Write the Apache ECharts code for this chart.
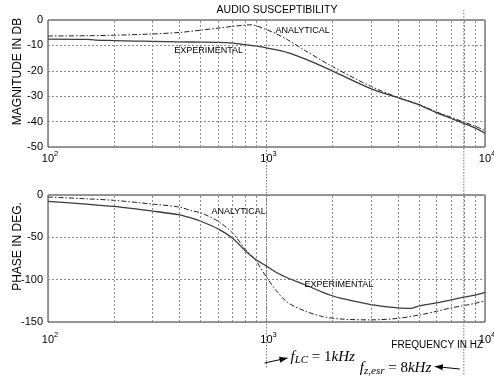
<!DOCTYPE html>
<html><head><meta charset="utf-8">
<script src="https://cdn.jsdelivr.net/npm/echarts@6/dist/echarts.min.js"></script>
<style>html,body{margin:0;padding:0;background:#fff}#c{width:494px;height:383px}</style>
</head><body><div id="c"></div>
<script>
// ---- data ----
const magFreqAna = [100,150,200,300,400,500,600,700,800,850,900,1000,1100,1250,1500,2000,3000,4000,5000,6000,7000,8000,9000,10000];
const magAna     = [-6.3,-6.2,-6.0,-5.5,-4.9,-4.0,-3.2,-2.5,-2.0,-1.9,-2.3,-3.8,-5.3,-7.8,-12.0,-18.3,-26.1,-30.5,-33.3,-36.2,-38.3,-40.2,-41.8,-43.5];
const magFreqExp = [100,150,165,200,250,300,400,500,600,700,800,900,1000,1250,1500,2000,3000,4000,5000,6000,7000,8000,9000,10000];
const magExp     = [-7.5,-7.6,-7.9,-8.1,-8.3,-8.4,-8.6,-8.7,-8.8,-9.1,-9.7,-10.3,-11.0,-12.8,-15.3,-20.0,-27.0,-30.6,-33.4,-36.5,-38.7,-40.7,-42.5,-44.6];
const phFreqAna  = [100,150,200,300,400,450,500,600,700,800,880,1000,1100,1250,1500,1800,2200,3000,4000,5000,6000,7000,8000,9000,10000];
const phAna      = [-2.4,-4.5,-6.3,-10.7,-14.3,-18.3,-21,-31,-45,-64,-75,-97,-112,-127,-137,-143.5,-146.5,-147.5,-145.7,-141.7,-137.4,-133.3,-130.6,-128,-125];
const phFreqExp  = [100,150,200,300,400,450,500,600,700,800,880,1000,1100,1250,1500,1800,2000,2200,3000,4000,4600,5000,6000,7000,8000,9000,10000];
const phExp      = [-7.6,-10.8,-13.5,-19,-23.4,-27,-31,-40,-51,-66,-75,-84,-91,-98,-106,-114.7,-119,-122,-129.4,-133.3,-133.8,-131,-127.4,-123.8,-120.7,-118.3,-115];
const minorGrid  = [200,300,400,500,600,700,800,900,2000,3000,4000,5000,6000,7000,8000,9000];
const magTicks   = [-50,-40,-30,-20,-10,0];
const phTicks    = [-150,-100,-50,0];
const xTicks     = [100,1000,10000];

const FONT = 'Liberation Sans, Arial, sans-serif';
const TICKFONT = 'Liberation Sans Narrow, Arial Narrow, Liberation Sans, Arial, sans-serif';
const gridLine = {color:'#8a8a8a', width:1, type:[2,2]};
const chart = echarts.init(document.getElementById('c'), null, {renderer:'canvas'});

function pairs(fs, vs){ return fs.map((f,i)=>[f, vs[i]]); }
function minorLines(){
  return {silent:true, symbol:['none','none'], label:{show:false}, lineStyle:gridLine, animation:false,
          data: minorGrid.map(f=>({xAxis:f}))};
}
function xAxisCfg(gi){
  return {type:'log', logBase:10, gridIndex:gi, min:xTicks[0], max:xTicks[xTicks.length-1],
    axisLine:{show:false}, axisTick:{show:false}, axisLabel:{show:false},
    splitLine:{show:true, lineStyle:gridLine} };
}
function yAxisCfg(gi, ticks, name, gap){
  return {type:'value', gridIndex:gi, min:ticks[0], max:ticks[ticks.length-1], interval:ticks[1]-ticks[0],
    name:name, nameLocation:'middle', nameGap:gap, nameMoveOverlap:false,
    nameTextStyle:{fontSize:12, fontFamily:FONT, color:'#000', padding:[0,0,0,24]},
    axisLine:{show:false}, axisTick:{show:false},
    splitLine:{show:true, lineStyle:gridLine},
    axisLabel:{margin:5, fontSize:11, fontFamily:TICKFONT, color:'#000'} };
}
function textMark(coord, txt){
  return {coord:coord, symbolSize:0, label:{show:true, position:'right', distance:0, formatter:txt,
          fontSize:9, fontFamily:FONT, color:'#000'}};
}
const anaStyle = {color:'#222', width:1, type:[5,2,1.5,2]};
const expStyle = {color:'#3a3a3a', width:1.3};

chart.setOption({
  animation:false,
  backgroundColor:'#fff',
  title:{text:'AUDIO SUSCEPTIBILITY', left:272, textAlign:'center', top:0,
         textStyle:{fontSize:10.5, fontWeight:'normal', fontFamily:FONT, color:'#000'}},
  grid:[
    {left:48, right:9, top:20, height:127, show:true, borderColor:'#333', borderWidth:1, outerBoundsMode:'none'},
    {left:48, right:9, top:195, height:127, show:true, borderColor:'#333', borderWidth:1, outerBoundsMode:'none'}
  ],
  xAxis:[ xAxisCfg(0), xAxisCfg(1) ],
  yAxis:[ yAxisCfg(0, magTicks, 'MAGNITUDE IN DB', 24), yAxisCfg(1, phTicks, 'PHASE IN DEG.', 24) ],
  series:[
    {type:'line', xAxisIndex:0, yAxisIndex:0, data:pairs(magFreqAna, magAna), showSymbol:false, smooth:0.3,
     lineStyle:anaStyle, markLine:minorLines(),
     markPoint:{symbol:'circle', data:[textMark([1099,-4.2],'ANALYTICAL')]}},
    {type:'line', xAxisIndex:0, yAxisIndex:0, data:pairs(magFreqExp, magExp), showSymbol:false, smooth:0.3,
     lineStyle:expStyle,
     markPoint:{symbol:'circle', data:[textMark([378,-12.1],'EXPERIMENTAL')]}},
    {type:'line', xAxisIndex:1, yAxisIndex:1, data:pairs(phFreqAna, phAna), showSymbol:false, smooth:0.3,
     lineStyle:anaStyle, markLine:minorLines(),
     markPoint:{symbol:'circle', data:[textMark([560,-19.5],'ANALYTICAL')]}},
    {type:'line', xAxisIndex:1, yAxisIndex:1, data:pairs(phFreqExp, phExp), showSymbol:false, smooth:0.3,
     lineStyle:expStyle,
     markPoint:{symbol:'circle', data:[textMark([1493,-105.6],'EXPERIMENTAL')]}}
  ]
});

// x tick labels (10^n) and annotations, placed through the axes' own scales
const graphics = [];
const tickRich = { b:{fontSize:11, fontFamily:TICKFONT, fill:'#000', padding:[3,0,0,0], verticalAlign:'bottom'},
                   s:{fontSize:7.5, fontFamily:TICKFONT, fill:'#000', verticalAlign:'top'} };
[[0, magTicks[0], 3], [1, phTicks[0], 9]].forEach(([gi, ymin, off]) => {
  xTicks.forEach(v => {
    const p = chart.convertToPixel({gridIndex:gi}, [v, ymin]);
    graphics.push({type:'text', x:p[0] + 2, y:p[1] + off,
      style:{text:'{b|10}{s|' + Math.round(Math.log10(v)) + '}', align:'center', verticalAlign:'top', rich:tickRich}});
  });
});

const pTop1k = chart.convertToPixel({gridIndex:0}, [1000, -50]);
const pBot1k = chart.convertToPixel({gridIndex:1}, [1000, -150]);
const pTop8k = chart.convertToPixel({gridIndex:0}, [8000, 0]);
const pBot8k = chart.convertToPixel({gridIndex:1}, [8000, -150]);
const pRight = chart.convertToPixel({gridIndex:1}, [10000, -150]);
const dot = {stroke:'#777', lineWidth:1, lineDash:[1.5,1.5]};
const arrowStyle = {stroke:'#000', lineWidth:1};
function arrowHead(tip, from){
  const dx = tip[0]-from[0], dy = tip[1]-from[1], L = Math.hypot(dx,dy), ux = dx/L, uy = dy/L;
  const bx = tip[0]-ux*8, by = tip[1]-uy*8;
  return {type:'polygon', shape:{points:[tip,[bx-uy*3,by+ux*3],[bx+uy*3,by-ux*3]]}, style:{fill:'#000'}};
}
const a1from = [pBot1k[0]-2, pBot1k[1]+41], a1to = [pBot1k[0]+21, pBot1k[1]+36];
const a2from = [pBot8k[0]-4, pBot8k[1]+47], a2to = [pBot8k[0]-29, pBot8k[1]+44.5];
const serif = 'Liberation Serif, Times New Roman, serif';
const annRich = { i:{fontFamily:serif, fontStyle:'italic', fontSize:15, fill:'#000'},
                  sub:{fontFamily:serif, fontStyle:'italic', fontSize:11, fill:'#000', verticalAlign:'bottom', padding:[7,0,0,0]},
                  n:{fontFamily:serif, fontSize:15, fill:'#000'} };
graphics.push(
  {type:'line', shape:{x1:pTop1k[0], y1:pTop1k[1], x2:pTop1k[0], y2:pBot1k[1]+46}, style:dot},
  {type:'line', shape:{x1:pTop8k[0], y1:pTop8k[1]-10, x2:pTop8k[0], y2:pBot8k[1]+53}, style:dot},
  {type:'line', shape:{x1:a1from[0], y1:a1from[1], x2:a1to[0], y2:a1to[1]}, style:arrowStyle},
  arrowHead(a1to, a1from),
  {type:'line', shape:{x1:a2from[0], y1:a2from[1], x2:a2to[0], y2:a2to[1]}, style:arrowStyle},
  arrowHead(a2to, a2from),
  {type:'text', x:pRight[0]-2, y:pRight[1]+23, style:{text:'FREQUENCY IN HZ', align:'right', verticalAlign:'middle',
     font:'10px ' + FONT, fill:'#000'}},
  {type:'text', x:pBot1k[0]+24, y:pBot1k[1]+35, style:{
     text:'{i|f}{sub|LC}{n| = 1}{i|kHz}', align:'left', verticalAlign:'middle', rich:annRich }},
  {type:'text', x:pBot8k[0]-104, y:pBot8k[1]+46, style:{
     text:'{i|f}{sub|z,esr}{n| = 8}{i|kHz}', align:'left', verticalAlign:'middle', rich:annRich }}
);
chart.setOption({graphic:graphics});
</script></body></html>
